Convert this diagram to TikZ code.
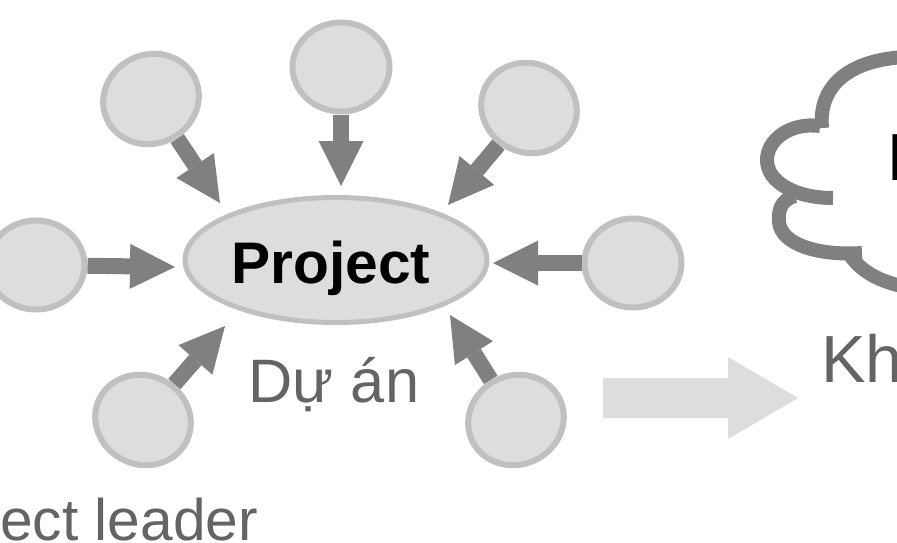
\documentclass[tikz,border=0pt]{standalone}
\usepackage{fontspec}
\setmainfont{Liberation Sans}
\usetikzlibrary{arrows.meta,shapes.geometric}

\tikzset{
  sat/.style={ellipse,draw={rgb, 255:red, 192; green, 192; blue, 192},line width=4.5pt,
    fill={rgb, 255:red, 221; green, 221; blue, 221},minimum width=72.75pt,minimum height=66.75pt,inner sep=0pt},
  hub/.style={ellipse,draw={rgb, 255:red, 192; green, 192; blue, 192},line width=3.75pt,
    fill={rgb, 255:red, 221; green, 221; blue, 221},minimum width=226.5pt,minimum height=93.75pt,inner sep=0pt},
  spoke/.style={draw={rgb, 255:red, 128; green, 128; blue, 128},line width=12pt,
    -{Triangle[length=33.75pt,width=33.75pt,line width=0pt]}},
  cloudline/.style={draw={rgb, 255:red, 128; green, 128; blue, 128},line width=10.5pt},
  greytext/.style={text={rgb, 255:red, 100; green, 100; blue, 100},inner sep=0pt}
}

\begin{document}
\begin{tikzpicture}[x=0.75pt,y=0.75pt,yscale=-1,xscale=1]
    \useasboundingbox (0,0) rectangle (897,543);

    %Shape: Ellipse [hub]
    \node[hub] (proj) at (336,260) {};
    % Text Node
    \node[anchor=base,inner sep=0pt,font=\fontsize{44pt}{53pt}\selectfont\bfseries] (projlbl) at (331,283) {Project};
    % Text Node
    \node[greytext,anchor=base,font=\fontsize{46pt}{55pt}\selectfont] (duan) at (334,402) {Dự án};

    %Shape: Ellipse [satellites]
    \node[sat,rotate=25] (s1) at (151,99) {};
    \node[sat] (s2) at (341,67) {};
    \node[sat,rotate=-25] (s3) at (529,108) {};
    \node[sat] (s4) at (36,265) {};
    \node[sat] (s5) at (633,263) {};
    \node[sat,rotate=-25] (s6) at (143,420) {};
    \node[sat,rotate=25] (s7) at (516,420) {};

    %Arrow tips near the hub
    \coordinate (t1) at (220,203);
    \coordinate (t2) at (341,186);
    \coordinate (t3) at (448,205);
    \coordinate (t4) at (175,267);
    \coordinate (t5) at (493,263);
    \coordinate (t6) at (225,326);
    \coordinate (t7) at (450,315);

    %Straight Lines [spokes]
    \draw[spoke] (s1) -- (t1);
    \draw[spoke] (s2) -- (t2);
    \draw[spoke] (s3) -- (t3);
    \draw[spoke] (s4) -- (t4);
    \draw[spoke] (s5) -- (t5);
    \draw[spoke] (s6) -- (t6);
    \draw[spoke] (s7) -- (t7);

    % Text Node
    \node[greytext,anchor=base west,font=\fontsize{44pt}{53pt}\selectfont] (leader) at (0,540) {ect leader};

    %Shape: Right Arrow
    \fill[color={rgb, 255:red, 221; green, 221; blue, 221}] (603,378) -- (728,378) -- (728,357) -- (798,398) -- (728,439) -- (728,418) -- (603,418) -- cycle;

    %Shape: Cloud
    \draw[cloudline] (822,128) .. controls (818,85) and (850,60) .. (905,57);
    \draw[cloudline] (820,126) .. controls (790,122) and (767,140) .. (767,160) .. controls (767,182) and (795,198) .. (833,198);
    \draw[cloudline] (795,196) .. controls (780,200) and (778,212) .. (779,222) .. controls (781,245) and (820,256) .. (862,253);
    \draw[cloudline] (848,252) .. controls (860,272) and (880,282) .. (910,288);
    % Text Node
    \node[anchor=base west,inner sep=0pt,font=\fontsize{50pt}{60pt}\selectfont] (cloudlbl) at (887,180) {P};

    % Text Node
    \node[greytext,anchor=base west,font=\fontsize{50pt}{60pt}\selectfont] (kh) at (821,382) {Kh};
\end{tikzpicture}
\end{document}
